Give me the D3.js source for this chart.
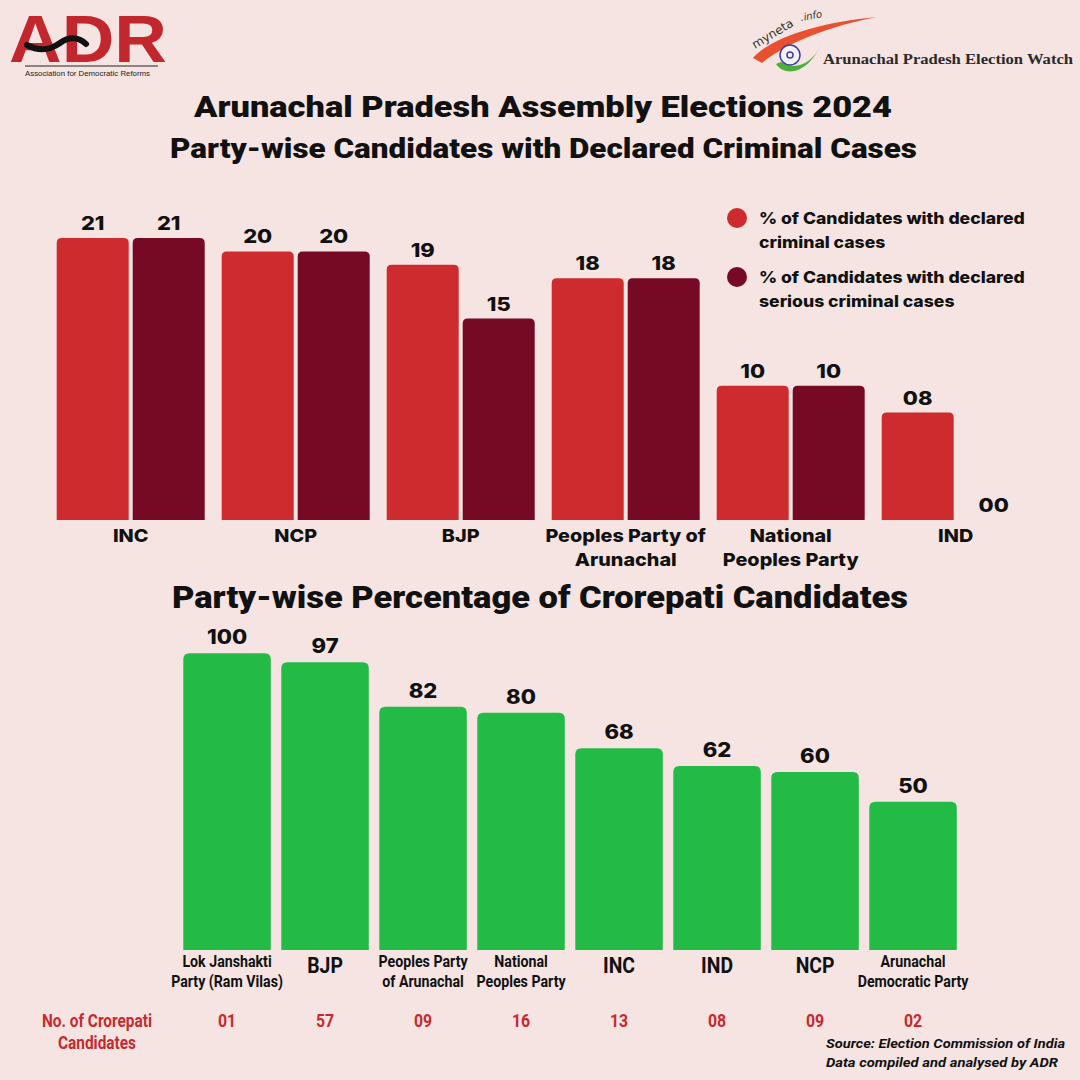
<!DOCTYPE html>
<html><head><meta charset="utf-8">
<script src="https://cdn.jsdelivr.net/npm/d3@7"></script>
<style>
html,body{margin:0;padding:0;background:#f5e4e1;}
svg{display:block;}
</style></head>
<body>
<svg id="c" width="1080" height="1080"></svg>
<script>
// ---------- DATA ----------
const crimParties = [["INC"],["NCP"],["BJP"],["Peoples Party of","Arunachal"],["National","Peoples Party"],["IND"]];
const crimSeries = ["% of Candidates with declared criminal cases","% of Candidates with declared serious criminal cases"];
const crimLegendLines = [["% of Candidates with declared","criminal cases"],["% of Candidates with declared","serious criminal cases"]];
const crimCases = [21,20,19,18,10,8];
const seriousCases = [21,20,15,18,10,0];

const croreParties = [["Lok Janshakti","Party (Ram Vilas)"],["BJP"],["Peoples Party","of Arunachal"],["National","Peoples Party"],["INC"],["IND"],["NCP"],["Arunachal","Democratic Party"]];
const crorePct = [100,97,82,80,68,62,60,50];
const croreCount = [1,57,9,16,13,8,9,2];

// ---------- STYLE ----------
const BG="#f5e4e1", RED="#cd2b2e", MAROON="#760a25", GREEN="#23bb46", TXTRED="#c62a30";
const WIDE="Inter, 'DejaVu Sans', sans-serif";
const COND="Roboto, 'Liberation Sans', sans-serif";
const fmt = d3.format("02d");

const svg = d3.select("#c");
svg.append("rect").attr("width",1080).attr("height",1080).attr("fill",BG);

function scaleText(sel,f){ sel.each(function(){ const l=this.getComputedTextLength(); d3.select(this).attr("textLength",l*f).attr("lengthAdjust","spacingAndGlyphs"); }); }
function topRound(x,y,w,h,r){ if(h<=0) return ""; r=Math.min(r,h); return `M${x},${y+h}V${y+r}Q${x},${y} ${x+r},${y}H${x+w-r}Q${x+w},${y} ${x+w},${y+r}V${y+h}Z`; }

// ---------- LOGOS ----------
const adr = svg.append("g");
adr.append("text").attr("x",9).attr("y",62).attr("font-family","'Liberation Sans',Arial,sans-serif")
  .attr("font-size",66).attr("font-weight",700).attr("fill","#c1272d").attr("textLength",158).attr("lengthAdjust","spacingAndGlyphs").text("ADR");
adr.append("path").attr("d","M27,45 C40,52 50,50 60,43 C68,37 78,36 86,44").attr("fill","none").attr("stroke","#111").attr("stroke-width",6).attr("stroke-linecap","round");
adr.append("line").attr("x1",25).attr("x2",158).attr("y1",66).attr("y2",66).attr("stroke","#222").attr("stroke-width",1);
adr.append("text").attr("x",25).attr("y",76).attr("font-family","'Liberation Sans',Arial,sans-serif").attr("font-size",7.5).attr("fill","#222")
  .attr("textLength",125).attr("lengthAdjust","spacingAndGlyphs").text("Association for Democratic Reforms");

const mn = svg.append("g");
mn.append("path").attr("d","M753,58 C770,38 820,22 877,17 C830,26 788,42 762,63 Z").attr("fill","#e8502f");
mn.append("path").attr("d","M776,64 C784,76 806,76 821,45 C812,64 795,71 781,62 Z").attr("fill","#4caf3c");
mn.append("circle").attr("cx",790).attr("cy",55).attr("r",10).attr("fill","#f3f0f8").attr("stroke","#3d3f99").attr("stroke-width",1.5);
mn.append("circle").attr("cx",790).attr("cy",55).attr("r",3).attr("fill","none").attr("stroke","#3d3f99").attr("stroke-width",1.5);
mn.append("text").attr("transform","translate(755,49) rotate(-31)").attr("font-family","'DejaVu Sans',sans-serif").attr("font-size",12).attr("fill","#333").text("myneta");
mn.append("text").attr("transform","translate(801,21) rotate(-10)").attr("font-family","'DejaVu Sans',sans-serif").attr("font-style","italic").attr("font-size",10).attr("fill","#333").text(".info");
mn.append("text").attr("x",823).attr("y",64).attr("font-family","'Liberation Serif',serif").attr("font-weight",700).attr("font-size",15).attr("fill","#2a2a2a")
  .attr("textLength",250).attr("lengthAdjust","spacingAndGlyphs").text("Arunachal Pradesh Election Watch");

// ---------- TITLES ----------
function title(txt,x0,x1,y,size){
  svg.append("text").attr("x",x0).attr("y",y).attr("font-family",COND).attr("font-weight",900).attr("font-size",size)
    .attr("fill","#111").attr("textLength",x1-x0).attr("lengthAdjust","spacingAndGlyphs").text(txt);
}
title("Arunachal Pradesh Assembly Elections 2024",194,892,117,29);
title("Party-wise Candidates with Declared Criminal Cases",170,917,158,27);
title("Party-wise Percentage of Crorepati Candidates",172,908,608,31);

// ---------- CHART 1 ----------
const c1 = svg.append("g");
const x0 = d3.scaleBand().domain(d3.range(crimParties.length)).range([56.7,1029.7]).paddingInner(17/165).paddingOuter(0);
const x1 = d3.scaleBand().domain([0,1]).range([0,x0.bandwidth()]).paddingInner(4/76).paddingOuter(0);
const y1 = d3.scaleLinear().domain([0,21]).range([520,238]);
const colors1 = [RED,MAROON];
const rows1 = crimParties.map((p,i)=>({i,vals:[crimCases[i],seriousCases[i]]}));
const grp = c1.selectAll("g.grp").data(rows1).join("g").attr("transform",d=>`translate(${x0(d.i)},0)`);
grp.selectAll("path").data(d=>d.vals.map((v,k)=>({v,k}))).join("path")
  .attr("d",d=>topRound(x1(d.k),y1(d.v),x1.bandwidth(),y1(0)-y1(d.v),5)).attr("fill",d=>colors1[d.k]);
grp.selectAll("text.val").data(d=>d.vals.map((v,k)=>({v,k}))).join("text").attr("class","val")
  .attr("x",d=>x1(d.k)+x1.bandwidth()/2).attr("y",d=>y1(d.v)-8).attr("text-anchor","middle")
  .attr("font-family",WIDE).attr("font-weight",800).attr("font-size",19).attr("fill","#111").text(d=>fmt(d.v))
  .call(scaleText,1.15);
rows1.forEach(d=>{
  const cx=x0(d.i)+x0.bandwidth()/2;
  crimParties[d.i].forEach((ln,j)=>c1.append("text").attr("x",cx).attr("y",542+j*24).attr("text-anchor","middle")
    .attr("font-family",WIDE).attr("font-weight",800).attr("font-size",18).attr("fill","#111").text(ln).call(scaleText,1.1));
});

// legend
const lg = svg.append("g");
crimSeries.forEach((s,k)=>{
  const yy = 218 + k*59;
  lg.append("circle").attr("cx",737).attr("cy",yy).attr("r",10).attr("fill",colors1[k]);
  crimLegendLines[k].forEach((ln,j)=>lg.append("text").attr("x",759).attr("y",yy+6+j*24)
    .attr("font-family",WIDE).attr("font-weight",800).attr("font-size",16).attr("fill","#111").text(ln).call(scaleText,1.1));
});

// ---------- CHART 2 ----------
const c2 = svg.append("g");
const xb = d3.scaleBand().domain(d3.range(croreParties.length)).range([183.3,956.8]).paddingInner(10.5/98).paddingOuter(0);
const y2 = d3.scaleLinear().domain([0,100]).range([950,653.3]);
c2.selectAll("path").data(crorePct).join("path")
  .attr("d",(v,i)=>topRound(xb(i),y2(v),xb.bandwidth(),y2(0)-y2(v),6)).attr("fill",GREEN);
c2.selectAll("text.val").data(crorePct).join("text").attr("class","val")
  .attr("x",(v,i)=>xb(i)+xb.bandwidth()/2).attr("y",v=>y2(v)-9).attr("text-anchor","middle")
  .attr("font-family",WIDE).attr("font-weight",800).attr("font-size",19.5).attr("fill","#111").text(v=>v)
  .call(scaleText,1.13);
croreParties.forEach((d,i)=>{
  const cx=xb(i)+xb.bandwidth()/2;
  if(d.length===1){
    c2.append("text").attr("x",cx).attr("y",973).attr("text-anchor","middle").attr("font-family",COND).attr("font-weight",700)
      .attr("font-size",22).attr("fill","#111").text(d[0]).call(scaleText,0.88);
  } else {
    d.forEach((ln,j)=>c2.append("text").attr("x",cx).attr("y",967+j*20).attr("text-anchor","middle").attr("font-family",COND).attr("font-weight",700)
      .attr("font-size",16.5).attr("fill","#111").text(ln).call(scaleText,0.86));
  }
});

// counts row
const cnt = svg.append("g");
cnt.selectAll("text").data(croreCount).join("text")
  .attr("x",(v,i)=>xb(i)+xb.bandwidth()/2).attr("y",1027).attr("text-anchor","middle")
  .attr("font-family",COND).attr("font-weight",700).attr("font-size",18).attr("fill",TXTRED).text(v=>fmt(v))
  .call(scaleText,0.88);
["No. of Crorepati","Candidates"].forEach((ln,j)=>cnt.append("text").attr("x",97).attr("y",1027+j*22).attr("text-anchor","middle")
  .attr("font-family",COND).attr("font-weight",700).attr("font-size",17.5).attr("fill",TXTRED).text(ln).call(scaleText,0.88));

// source
const src = svg.append("g").attr("font-family",COND).attr("font-weight",700).attr("font-style","italic").attr("font-size",13).attr("fill","#111");
src.append("text").attr("x",826).attr("y",1048).attr("textLength",239).attr("lengthAdjust","spacingAndGlyphs").text("Source: Election Commission of India");
src.append("text").attr("x",826).attr("y",1067).attr("textLength",232).attr("lengthAdjust","spacingAndGlyphs").text("Data compiled and analysed by ADR");
</script>
</body></html>
